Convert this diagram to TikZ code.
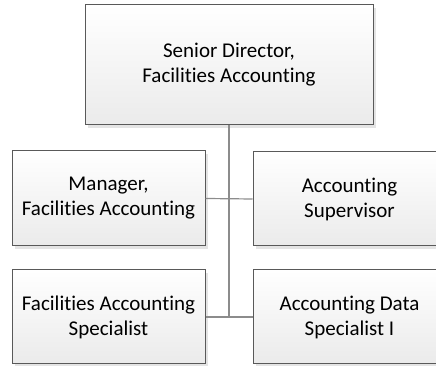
\documentclass[tikz,border=0pt]{standalone}
\usepackage{fontspec}
\setmainfont{Carlito}[Ligatures=NoCommon]
\usetikzlibrary{shadows}

\begin{document}
\begin{tikzpicture}[x=1pt,y=1pt,
  box/.style={draw=black!65, line width=1pt, top color=white, bottom color=black!8,
    align=center, inner sep=0pt, font=\fontsize{21}{25}\selectfont,
    drop shadow={shadow xshift=3pt, shadow yshift=-3pt, fill=black!30, opacity=0.35}},
  link/.style={draw=black!45, line width=1.2pt}]

\clip (0,0) rectangle (436,366);

\node[box, minimum width=288pt, minimum height=120pt](sd) at (229,301) {Senior Director,\\Facilities Accounting};

\node[box, minimum width=193pt, minimum height=95pt](mgr) at (108.5,167.5) {Manager,\\Facilities Accounting};

\node[box, minimum width=193pt, minimum height=94pt](sup) at (349.5,167) {Accounting\\Supervisor};

\node[box, minimum width=193pt, minimum height=94pt](spec) at (108.5,49) {Facilities Accounting\\Specialist};

\node[box, minimum width=193pt, minimum height=94pt](data) at (349.5,49) {Accounting Data\\Specialist I};

\coordinate (j) at (sd.south |- spec.east);

\foreach \from/\to in {mgr/sup, spec/data}
    \draw[link] (\from.east) -- (\to.west);

\draw[link] (sd.south) -- (j);

\end{tikzpicture}
\end{document}
